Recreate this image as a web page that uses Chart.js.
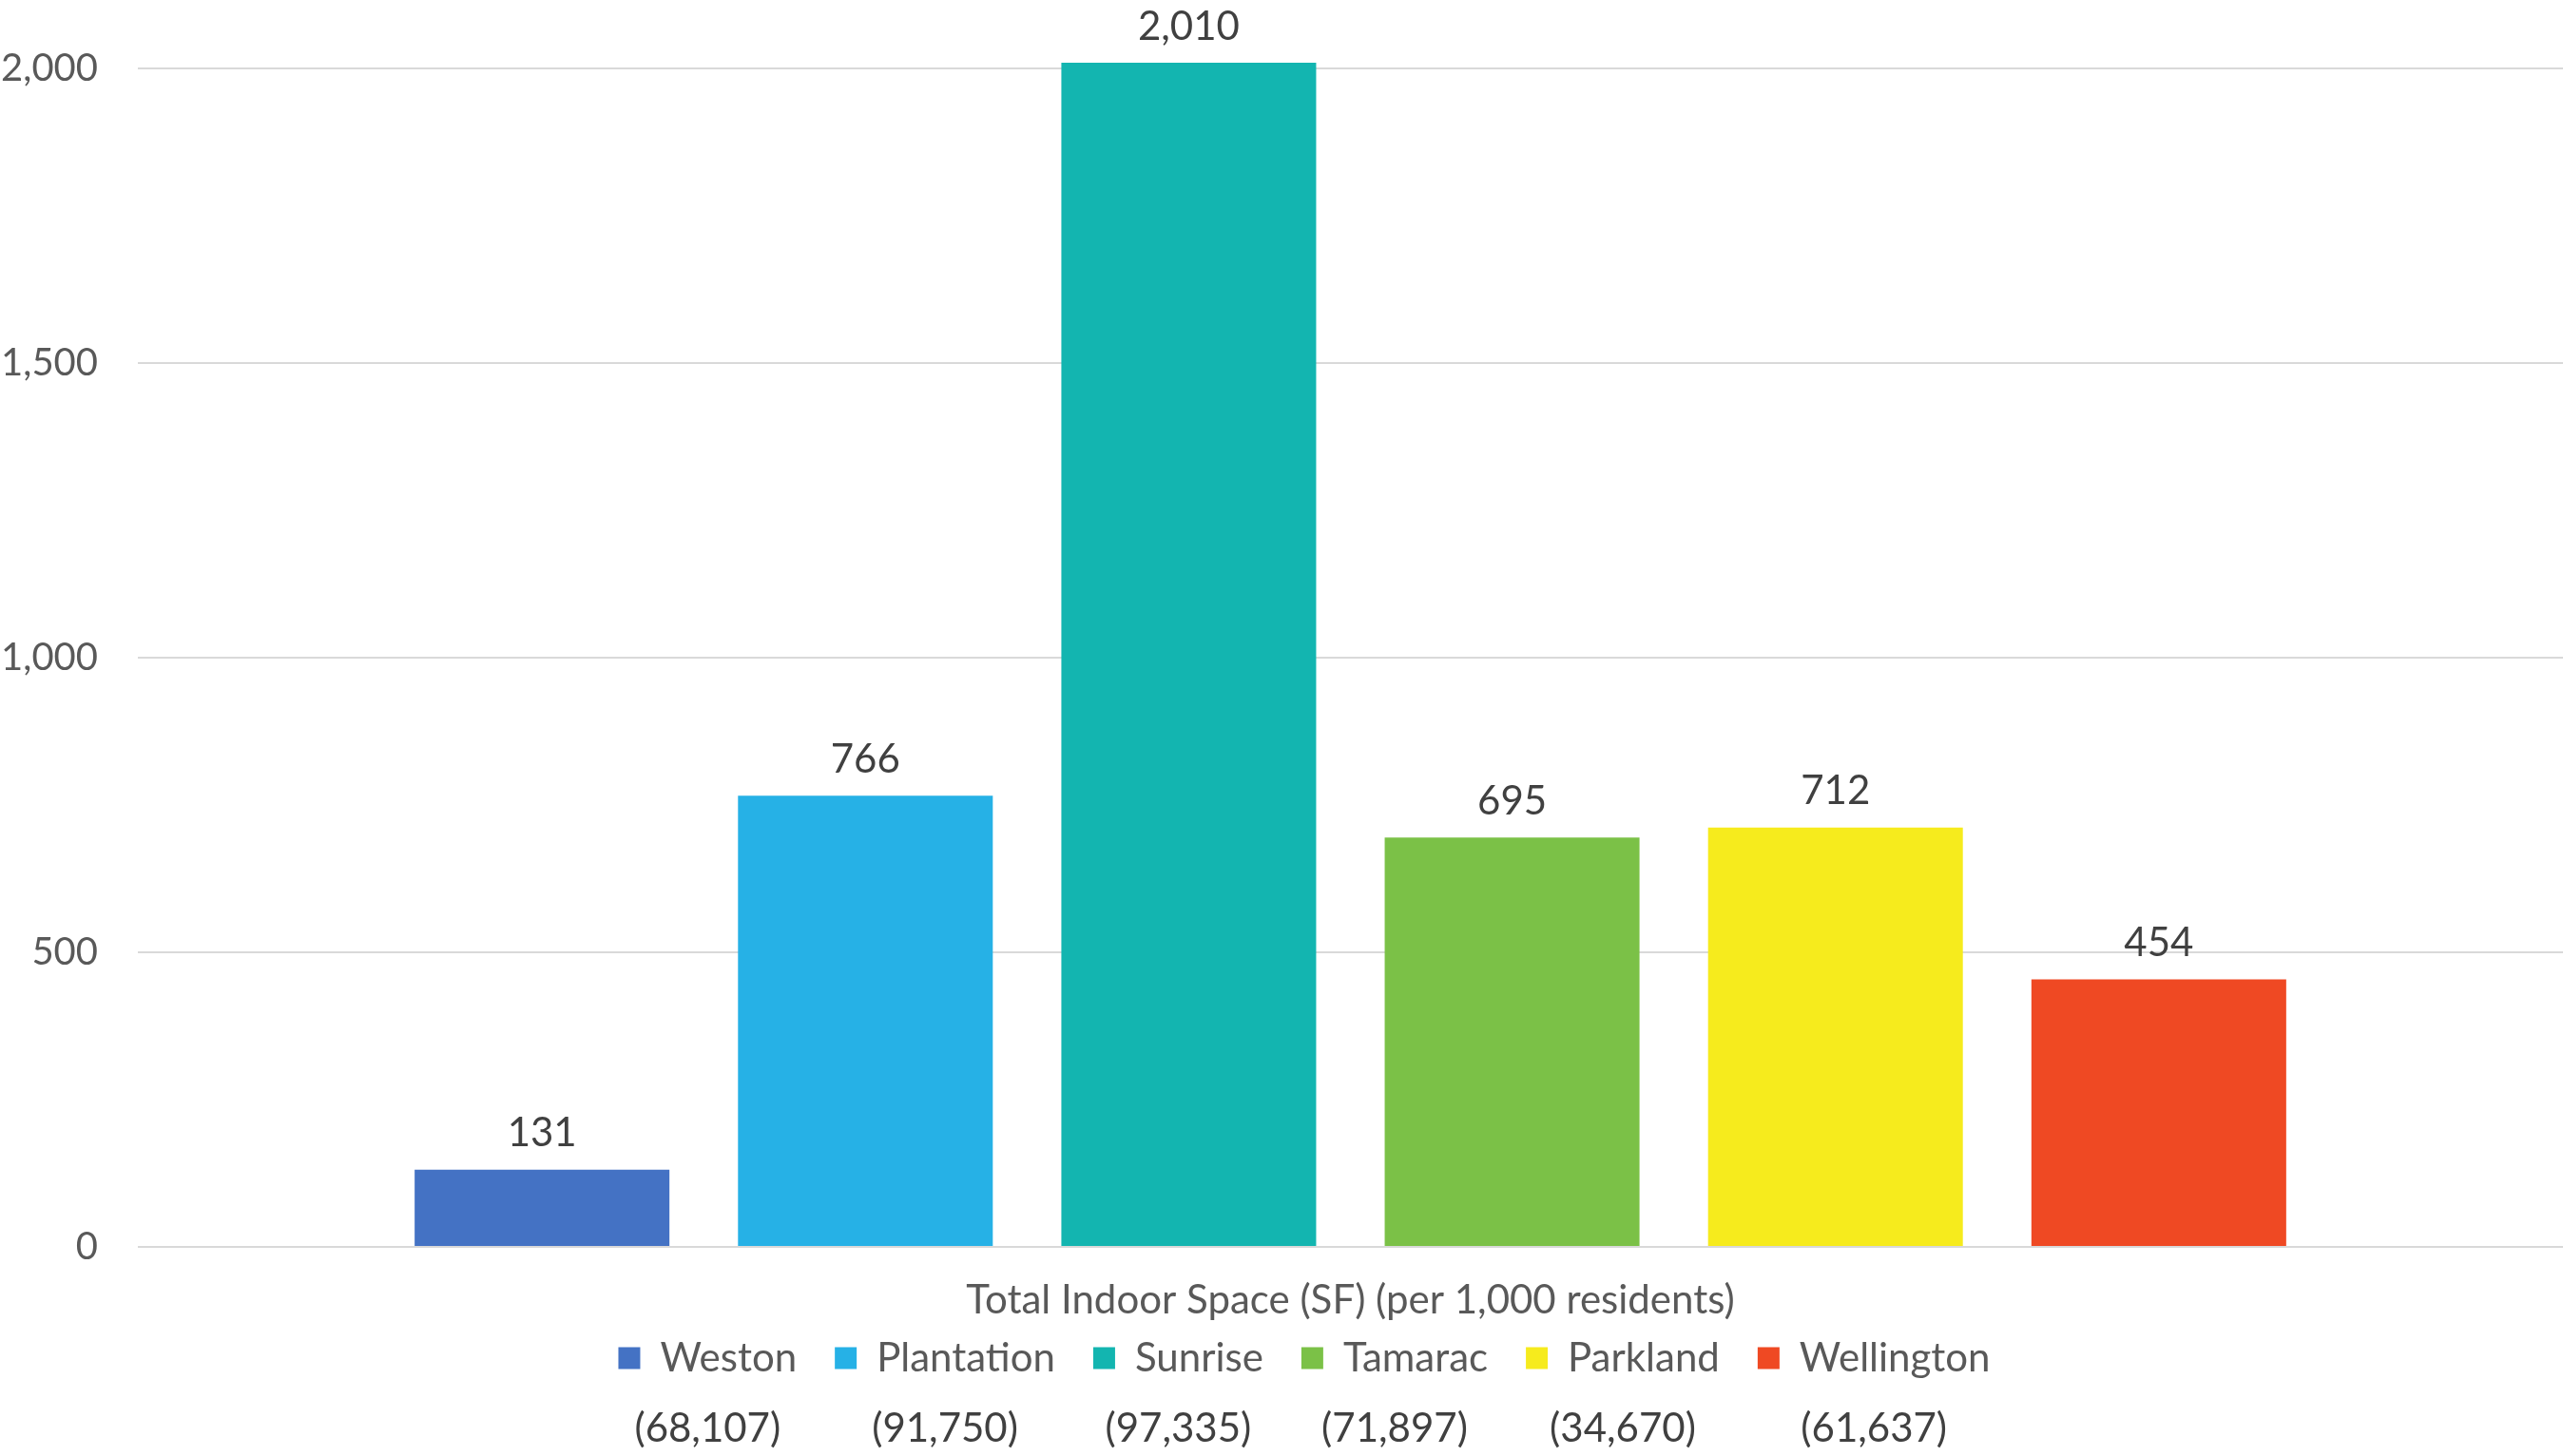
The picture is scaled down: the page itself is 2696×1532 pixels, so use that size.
<!DOCTYPE html>
<html>
<head>
<meta charset="utf-8">
<script src="https://cdn.jsdelivr.net/npm/chart.js@4"></script>
<style>
  html, body { margin: 0; padding: 0; background: #fff; }
  #wrap { width: 2696px; height: 1532px; }
</style>
</head>
<body>
<div id="wrap"><canvas id="chart"></canvas></div>
<script>
const categories = ['Total Indoor Space (SF) (per 1,000 residents)'];
const cities = ['Weston', 'Plantation', 'Sunrise', 'Tamarac', 'Parkland', 'Wellington'];
const values = [131, 766, 2010, 695, 712, 454];
const populations = ['(68,107)', '(91,750)', '(97,335)', '(71,897)', '(34,670)', '(61,637)'];
const yTicks = [0, 500, 1000, 1500, 2000];
const colors = ['#4472C4', '#26B1E6', '#13B5B0', '#7BC147', '#F6EB1D', '#EF4923'];

const FONT = 'Lato, "Noto Sans", sans-serif';

// value labels above bars + population row under legend
const extras = {
    id: 'extras',
    afterLayout(chart) {
        // legend sits a little right of canvas centre in the original
        chart.legend.left += 24;
        chart.legend.right += 24;
    },
    afterDatasetsDraw(chart) {
        const ctx = chart.ctx;
        ctx.save();
        ctx.font = '42px ' + FONT;
        ctx.fillStyle = '#404040';
        ctx.textAlign = 'center';
        ctx.textBaseline = 'middle';
        chart.data.datasets.forEach((ds, i) => {
            const bar = chart.getDatasetMeta(i).data[0];
            ctx.fillText(ds.data[0].toLocaleString('en-US'), bar.x, bar.y - 38);
        });
        ctx.restore();
    },
    afterDraw(chart) {
        const boxes = chart.legend.legendHitBoxes;
        const ctx = chart.ctx;
        ctx.save();
        ctx.font = '42px ' + FONT;
        ctx.fillStyle = '#404040';
        ctx.textAlign = 'center';
        ctx.textBaseline = 'middle';
        boxes.forEach((hb, i) => {
            ctx.fillText(populations[i], hb.left + hb.width / 2, hb.top + hb.height / 2 + 74);
        });
        ctx.restore();
    }
};

const ctx = document.getElementById('chart').getContext('2d');
const chart = new Chart(ctx, {
    type: 'bar',
    data: {
        labels: categories,
        datasets: cities.map((c, i) => ({
            label: c,
            data: [values[i]],
            backgroundColor: colors[i],
            categoryPercentage: 0.8,
            barPercentage: 0.788
        }))
    },
    options: {
        responsive: true,
        maintainAspectRatio: false,
        animation: false,
        layout: { padding: { top: 0, left: 0, right: 0, bottom: 72 } },
        plugins: {
            tooltip: { enabled: false },
            legend: {
                position: 'bottom',
                labels: {
                    boxWidth: 23,
                    boxHeight: 23,
                    padding: 40,
                    color: '#595959',
                    font: { family: FONT, size: 42 }
                }
            }
        },
        scales: {
            x: {
                grid: { display: false },
                border: { display: false },
                ticks: { display: false },
                title: {
                    display: true,
                    text: categories[0],
                    color: '#595959',
                    font: { family: FONT, size: 42 },
                    padding: { top: 0, bottom: -26 }
                },
                afterFit: s => { s.height = 56; }
            },
            y: {
                min: 0,
                max: 2010,
                border: { display: false },
                grid: { color: '#d9d9d9', lineWidth: 2, drawTicks: false },
                ticks: {
                    padding: 42,
                    color: '#595959',
                    font: { family: FONT, size: 40 }
                },
                afterBuildTicks: s => { s.ticks = yTicks.map(v => ({ value: v })); },
                afterFit: s => { s.width = 145; }
            }
        }
    },
    plugins: [extras]
});
</script>
</body>
</html>
